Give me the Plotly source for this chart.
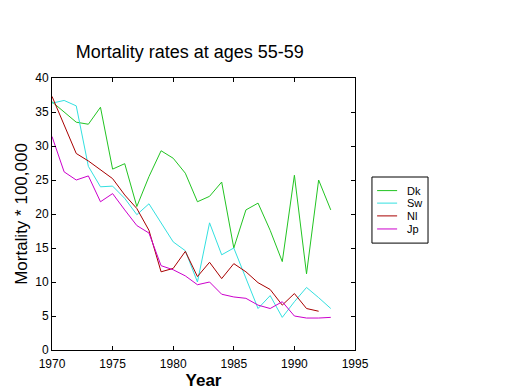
import plotly.graph_objects as go

years = list(range(1970, 1994))
dk = [36.5, 35.0, 33.5, 33.2, 35.7, 26.6, 27.4, 21.1, 25.5, 29.3, 28.2, 26.0,
      21.8, 22.6, 24.7, 15.0, 20.6, 21.6, 17.6, 13.0, 25.7, 11.2, 25.0, 20.6]
sw = [36.3, 36.7, 35.9, 27.0, 24.0, 24.1, 22.3, 19.9, 21.5, 18.6, 15.9, 14.6,
      10.0, 18.7, 14.0, 15.0, 10.6, 6.1, 8.0, 4.8, 7.1, 9.2, 7.7, 6.1]
nl = [37.3, 33.1, 28.9, 27.8, 26.5, 25.2, 22.8, 20.8, 17.6, 11.5, 12.0, 14.5,
      10.8, 12.9, 10.5, 12.7, 11.5, 9.9, 8.9, 6.6, 8.3, 6.1, 5.7, None]
jp = [31.4, 26.2, 25.0, 25.6, 21.8, 23.0, 20.6, 18.3, 17.2, 12.4, 11.8, 10.9,
      9.6, 10.0, 8.2, 7.8, 7.6, 6.6, 6.1, 7.1, 5.0, 4.7, 4.7, 4.8]

names = ["Dk", "Sw", "Nl", "Jp"]
series = [dk, sw, nl, jp]
colors = ["#22c422", "#33e0e0", "#a80000", "#cc00cc"]

fig = go.Figure()
for n, s, c in zip(names, series, colors):
    fig.add_trace(go.Scatter(x=years, y=s, name=n, mode="lines",
                             line=dict(color=c, width=1), showlegend=False))

axis_common = dict(showgrid=False, zeroline=False, showline=True,
                   linecolor="black", linewidth=1, mirror="ticks",
                   ticks="inside", ticklen=4, tickcolor="black",
                   automargin=False,
                   tickfont=dict(size=12, color="black"))

fig.update_xaxes(range=[1970, 1995], tickvals=[1970, 1975, 1980, 1985, 1990, 1995],
                 ticklabelstandoff=3,
                 title=dict(text="<b>Year</b>", font=dict(size=17, color="black"), standoff=9),
                 **axis_common)
fig.update_yaxes(range=[0, 40], tickvals=[0, 5, 10, 15, 20, 25, 30, 35, 40],
                 title=dict(text="Mortality * 100,000", font=dict(size=17, color="black"), standoff=3),
                 **axis_common)

# Legend box drawn in paper coordinates (box, sample lines, labels)
leg_x0, leg_x1, leg_y0, leg_y1 = 1.056, 1.241, 0.393, 0.636
line_x0, line_x1, text_x = 1.073, 1.139, 1.165
entry_y = [0.586, 0.540, 0.493, 0.445]

fig.add_shape(type="rect", xref="paper", yref="paper", x0=leg_x0, x1=leg_x1,
              y0=leg_y0, y1=leg_y1, line=dict(color="black", width=1),
              fillcolor="white")
for n, c, yy in zip(names, colors, entry_y):
    fig.add_shape(type="line", xref="paper", yref="paper", x0=line_x0, x1=line_x1,
                  y0=yy, y1=yy, line=dict(color=c, width=1))
    fig.add_annotation(text=n, xref="paper", yref="paper", x=text_x, y=yy,
                       xanchor="left", yanchor="middle", showarrow=False,
                       font=dict(size=11, color="black"))

# page body has an 8px default margin, so the figure is 8px smaller
fig.update_layout(
    width=512, height=382,
    margin=dict(l=44, r=165, t=70, b=40, autoexpand=False),
    paper_bgcolor="white", plot_bgcolor="white",
    font=dict(family="Arial, Liberation Sans, sans-serif", color="black"),
    title=dict(text="Mortality rates at ages 55-59", x=0.355, xanchor="center",
               y=0.885, yanchor="middle", font=dict(size=18, color="black")),
)

fig.write_html("out.html")
